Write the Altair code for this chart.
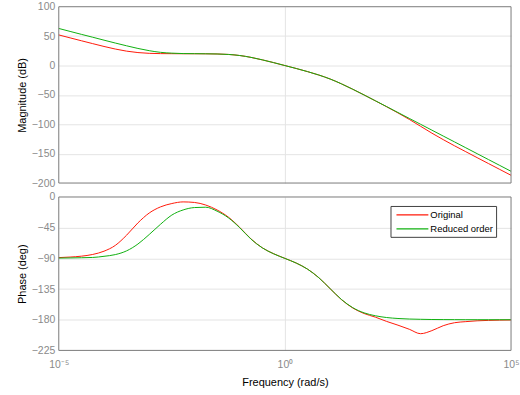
import altair as alt
import pandas as pd

# log10 of frequency (rad/s)
log_w = [-5.0, -4.75, -4.5, -4.25, -4.0, -3.75, -3.5, -3.25, -3.0, -2.75,
         -2.5, -2.25, -2.0, -1.75, -1.5, -1.25, -1.0, -0.75, -0.5, -0.25,
         0.0, 0.25, 0.5, 0.75, 1.0, 1.25, 1.5, 1.75, 2.0, 2.25,
         2.5, 2.75, 3.0, 3.25, 3.5, 3.75, 4.0, 4.25, 4.5, 4.75, 5.0]

mag_original = [52.0, 47.0, 42.1, 37.2, 32.4, 28.0, 24.4, 22.0, 20.7, 20.2,
                20.1, 20.0, 20.0, 19.9, 19.6, 18.8, 17.0, 13.8, 9.6, 4.9,
                -0.1, -5.1, -10.4, -16.2, -23.0, -31.2, -40.4, -50.1, -60.1, -70.2,
                -80.7, -91.7, -103.4, -115.1, -126.1, -136.6, -146.7, -156.8, -166.8, -176.8, -186.8]

mag_reduced = [63.0, 58.0, 53.0, 48.1, 43.1, 38.2, 33.5, 29.0, 25.2, 22.4,
               21.0, 20.3, 20.1, 19.9, 19.6, 18.8, 17.0, 13.8, 9.6, 4.9,
               -0.1, -5.1, -10.4, -16.2, -23.0, -31.2, -40.4, -50.1, -60.0, -70.0,
               -80.0, -90.0, -100.0, -110.0, -120.0, -130.0, -140.0, -150.0, -160.0, -170.0, -180.0]

phase_original = [-88.9, -88.1, -86.8, -84.3, -79.5, -71.0, -56.0, -38.0, -23.5, -14.5,
                  -9.6, -7.2, -8.0, -11.8, -19.0, -29.5, -44.5, -61.5, -74.5, -83.2,
                  -90.0, -96.9, -105.8, -118.4, -134.5, -150.5, -162.8, -170.9, -176.2, -182.5,
                  -188.0, -194.0, -200.5, -196.0, -188.8, -184.4, -182.8, -181.6, -181.0, -180.6, -180.4]

phase_reduced = [-89.6, -89.4, -89.1, -88.7, -87.0, -84.5, -79.0, -69.0, -55.0, -40.0,
                 -26.5, -19.0, -15.5, -15.0, -20.8, -30.5, -45.0, -61.8, -74.6, -83.3,
                 -90.1, -96.9, -105.8, -118.4, -134.4, -150.3, -162.3, -169.9, -174.2, -176.8,
                 -178.2, -179.0, -179.4, -179.7, -179.8, -179.9, -180.0, -180.0, -180.0, -180.0, -180.0]

series_names = ["Original", "Reduced order"]
series_colors = ["#ff1a0a", "#10b010"]

x_tick_values = [1e-5, 1.0, 1e5]
x_tick_labels = ["10\u207b\u2075", "10\u2070", "10\u2075"]
mag_ticks = [100, 50, 0, -50, -100, -150, -200]
phase_ticks = [0, -45, -90, -135, -180, -225]

rows = []
for name, mags, phs in [(series_names[0], mag_original, phase_original),
                        (series_names[1], mag_reduced, phase_reduced)]:
    for lw, m, p in zip(log_w, mags, phs):
        rows.append({"freq": 10 ** lw, "mag": m, "phase": p, "series": name})
df = pd.DataFrame(rows)

label_expr = " : ".join(
    [f"datum.value < {v * 1.5} ? '{lab}'" for v, lab in zip(x_tick_values[:-1], x_tick_labels[:-1])]
) + f" : '{x_tick_labels[-1]}'"

FONT = "Liberation Sans"
LABEL_COLOR = "#8a8a8a"
GRID = "#e4e4e4"
FRAME = "#7a7a7a"

# hide grid lines that would sit on the frame
x_grid_op = alt.ExprRef(expr="datum.value < 1e-4 || datum.value > 1e4 ? 0 : 1")
mag_grid_op = alt.ExprRef(expr="datum.value >= 100 || datum.value <= -200 ? 0 : 1")
ph_grid_op = alt.ExprRef(expr="datum.value >= 0 || datum.value <= -225 ? 0 : 1")

xscale = alt.Scale(type="log", domain=[1e-5, 1e5], nice=False)

color_top = alt.Color("series:N", scale=alt.Scale(domain=series_names, range=series_colors), legend=None)
color_bottom = alt.Color(
    "series:N",
    scale=alt.Scale(domain=series_names, range=series_colors),
    legend=alt.Legend(
        orient="none", legendX=333, legendY=9, title=None,
        fillColor="white", strokeColor="#404040", padding=3,
        symbolType="M-3.2,0L3.2,0", symbolSize=100, symbolStrokeWidth=1.2, symbolOffset=13,
        labelFont=FONT, labelFontSize=9.5, labelColor="black", labelOffset=12,
        rowPadding=3,
    ),
)

# box drawn around each plot area (the frame of the axes)
frame = alt.Chart(pd.DataFrame({"k": [0]})).mark_rect(
    fillOpacity=0, stroke=FRAME, strokeWidth=1
).encode(
    x=alt.value(0), x2=alt.value("width"), y=alt.value(0), y2=alt.value("height")
)

top_lines = alt.Chart(df).mark_line(strokeWidth=1, interpolate="monotone").encode(
    x=alt.X("freq:Q", scale=xscale,
            axis=alt.Axis(values=x_tick_values, labels=False, ticks=False, domain=False,
                          grid=True, gridColor=GRID, gridOpacity=x_grid_op, title=None)),
    y=alt.Y("mag:Q", scale=alt.Scale(domain=[-200, 100], nice=False),
            axis=alt.Axis(values=mag_ticks, grid=True, gridColor=GRID, gridOpacity=mag_grid_op,
                          ticks=False, domain=False,
                          labelColor=LABEL_COLOR, labelFont=FONT, labelFontSize=10.5, labelPadding=4,
                          title="Magnitude (dB)", titleFont=FONT, titleFontSize=11,
                          titleFontWeight="normal", titleColor="black", titlePadding=4)),
    color=color_top,
)
top = alt.layer(top_lines, frame).properties(width=454, height=177)

bottom_lines = alt.Chart(df).mark_line(strokeWidth=1, interpolate="monotone").encode(
    x=alt.X("freq:Q", scale=xscale,
            axis=alt.Axis(values=x_tick_values, labelExpr=label_expr, ticks=False, domain=False,
                          grid=True, gridColor=GRID, gridOpacity=x_grid_op,
                          labelColor=LABEL_COLOR, labelFont=FONT,
                          labelFontSize=10.5, labelPadding=9, labelFlush=False,
                          title="Frequency  (rad/s)", titleFont=FONT, titleFontSize=11,
                          titleFontWeight="normal", titleColor="black", titlePadding=7)),
    y=alt.Y("phase:Q", scale=alt.Scale(domain=[-225, 0], nice=False),
            axis=alt.Axis(values=phase_ticks, grid=True, gridColor=GRID, gridOpacity=ph_grid_op,
                          ticks=False, domain=False,
                          labelColor=LABEL_COLOR, labelFont=FONT, labelFontSize=10.5, labelPadding=4,
                          title="Phase (deg)", titleFont=FONT, titleFontSize=11,
                          titleFontWeight="normal", titleColor="black", titlePadding=4)),
    color=color_bottom,
)
bottom = alt.layer(bottom_lines, frame).properties(width=454, height=154)

chart = alt.vconcat(top, bottom, spacing=14, bounds="flush").resolve_legend(
    color="independent"
).properties(
    padding={"left": 16, "top": 1, "right": 0, "bottom": 0},
    background="white",
).configure_view(
    stroke=None,
)

chart.save("out.html", embed_options={"renderer": "svg", "actions": False})
